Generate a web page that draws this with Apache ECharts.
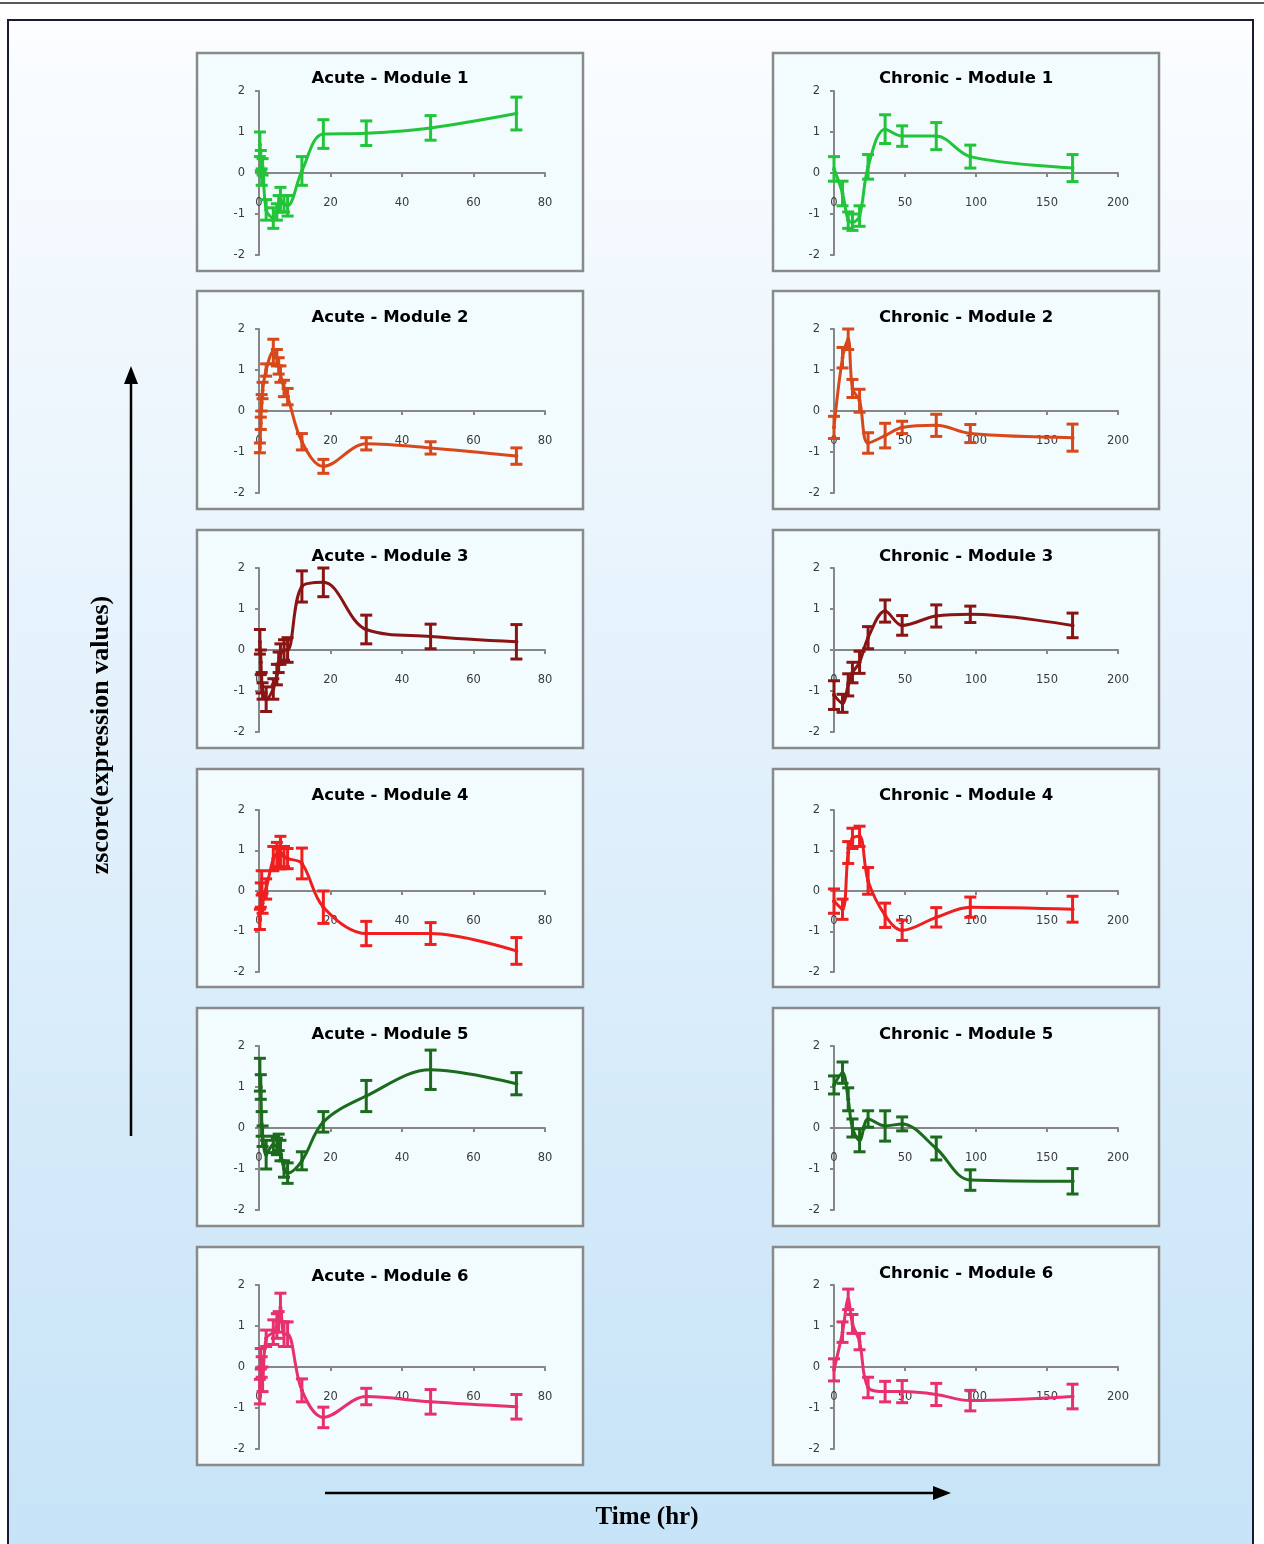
<!DOCTYPE html>
<html><head><meta charset="utf-8">
<script src="https://cdn.jsdelivr.net/npm/echarts@6/dist/echarts.min.js"></script>
<style>
html,body{margin:0;padding:0;background:#fff;}
#c{width:1264px;height:1544px;}
</style></head><body><div id="c"></div>
<script>
// ---------------- DATA ----------------
const acuteTime   = [0.25, 0.5, 0.75, 1, 2, 4, 5, 5.5, 6, 7, 8, 12, 18, 30, 48, 72];
const chronicTime = [0, 6, 10, 13, 18, 24, 36, 48, 72, 96, 168];

const acuteM1    = [0.7, 0.3, -0.1, 0.15, -0.9, -1.1, -0.95, -0.75, -0.65, -0.75, -0.8, 0.05, 0.95, 0.97, 1.1, 1.45];
const acuteM1Err = [0.3, 0.25, 0.2, 0.2, 0.25, 0.25, 0.2, 0.2, 0.3, 0.2, 0.25, 0.35, 0.35, 0.3, 0.3, 0.4];
const acuteM2    = [-0.9, -0.3, 0.2, 0.5, 1.0, 1.45, 1.3, 1.1, 0.9, 0.55, 0.35, -0.75, -1.35, -0.8, -0.9, -1.1];
const acuteM2Err = [0.12, 0.15, 0.2, 0.2, 0.15, 0.3, 0.2, 0.2, 0.2, 0.2, 0.2, 0.2, 0.17, 0.15, 0.15, 0.2];
const acuteM3    = [0.2, -0.3, -0.8, -1.0, -1.2, -0.95, -0.6, -0.3, -0.1, 0.0, 0.0, 1.55, 1.65, 0.5, 0.33, 0.2];
const acuteM3Err = [0.3, 0.3, 0.25, 0.2, 0.3, 0.25, 0.25, 0.25, 0.25, 0.25, 0.3, 0.38, 0.35, 0.35, 0.3, 0.42];
const acuteM4    = [-0.7, -0.1, 0.2, -0.3, 0.05, 0.8, 0.9, 0.8, 0.95, 0.85, 0.8, 0.68, -0.4, -1.05, -1.05, -1.48];
const acuteM4Err = [0.25, 0.3, 0.3, 0.25, 0.25, 0.3, 0.3, 0.25, 0.4, 0.25, 0.25, 0.38, 0.4, 0.3, 0.27, 0.33];
const acuteM5    = [1.3, 1.0, 0.1, -0.2, -0.65, -0.4, -0.45, -0.35, -0.55, -1.0, -1.1, -0.8, 0.15, 0.78, 1.42, 1.08];
const acuteM5Err = [0.4, 0.3, 0.3, 0.25, 0.35, 0.2, 0.2, 0.2, 0.25, 0.2, 0.25, 0.22, 0.25, 0.38, 0.48, 0.27];
const acuteM6    = [-0.6, 0.2, 0.0, -0.3, 0.7, 0.85, 1.0, 1.1, 1.45, 0.8, 0.8, -0.57, -1.23, -0.72, -0.85, -0.97];
const acuteM6Err = [0.3, 0.25, 0.25, 0.3, 0.2, 0.3, 0.3, 0.25, 0.35, 0.3, 0.3, 0.28, 0.25, 0.2, 0.3, 0.3];

const chronicM1    = [0.1, -0.5, -1.15, -1.2, -1.05, 0.15, 1.07, 0.9, 0.9, 0.4, 0.12];
const chronicM1Err = [0.3, 0.3, 0.2, 0.2, 0.25, 0.3, 0.35, 0.25, 0.33, 0.28, 0.33];
const chronicM2    = [-0.4, 1.3, 1.75, 0.55, 0.25, -0.78, -0.6, -0.4, -0.35, -0.55, -0.65];
const chronicM2Err = [0.27, 0.25, 0.25, 0.22, 0.28, 0.25, 0.3, 0.15, 0.27, 0.22, 0.33];
const chronicM3    = [-1.1, -1.3, -0.85, -0.55, -0.3, 0.3, 0.95, 0.6, 0.83, 0.87, 0.6];
const chronicM3Err = [0.35, 0.22, 0.27, 0.25, 0.27, 0.27, 0.27, 0.24, 0.27, 0.2, 0.3];
const chronicM4    = [-0.25, -0.45, 0.95, 1.3, 1.35, 0.25, -0.6, -0.97, -0.65, -0.4, -0.45];
const chronicM4Err = [0.3, 0.25, 0.27, 0.25, 0.25, 0.33, 0.3, 0.25, 0.24, 0.25, 0.32];
const chronicM5    = [1.05, 1.35, 0.7, 0.0, -0.3, 0.22, 0.05, 0.1, -0.5, -1.27, -1.3];
const chronicM5Err = [0.22, 0.26, 0.28, 0.22, 0.28, 0.2, 0.37, 0.17, 0.28, 0.25, 0.31];
const chronicM6    = [-0.07, 0.85, 1.65, 1.05, 0.62, -0.5, -0.6, -0.6, -0.67, -0.82, -0.72];
const chronicM6Err = [0.27, 0.25, 0.25, 0.23, 0.2, 0.25, 0.25, 0.27, 0.27, 0.25, 0.3];

const acuteTicks   = {max: 80, interval: 20};
const chronicTicks = {max: 200, interval: 50};
const yTicks       = {min: -2, max: 2, interval: 1};

const moduleNames = ['Module 1', 'Module 2', 'Module 3', 'Module 4', 'Module 5', 'Module 6'];
const yLabel = 'zscore(expression values)';
const xLabel = 'Time (hr)';

// ---------------- STYLE / LAYOUT ----------------
const colors = ['#22c43a', '#d8481a', '#8a1414', '#f01e1e', '#1c6b1c', '#e8306c'];
const acuteVals   = [acuteM1, acuteM2, acuteM3, acuteM4, acuteM5, acuteM6];
const acuteErrs   = [acuteM1Err, acuteM2Err, acuteM3Err, acuteM4Err, acuteM5Err, acuteM6Err];
const chronicVals = [chronicM1, chronicM2, chronicM3, chronicM4, chronicM5, chronicM6];
const chronicErrs = [chronicM1Err, chronicM2Err, chronicM3Err, chronicM4Err, chronicM5Err, chronicM6Err];

const panelTops = [53, 291, 530, 769, 1008, 1247];
const panelH = 218;
const panelLeft = [197, 773];
const panelW = 386;
const gridTop = [91, 329, 568, 810, 1046, 1285];
const gridH = [164, 164, 164, 162, 164, 164];
const gridLeft = [259, 834];
const gridW = [286, 284];
const titleY = [[77, 77], [316, 316], [555, 555], [794, 794], [1033, 1033], [1275, 1272]];

const axisColor = '#878787';
const grids = [], xAxes = [], yAxes = [], series = [], graphics = [];

// background frame
graphics.push({type:'rect', z:-10, shape:{x:8, y:20, width:1245, height:1600},
  style:{fill:new echarts.graphic.LinearGradient(0,0,0,1,[{offset:0,color:'#fbfdff'},{offset:1,color:'#c4e2f7'}]),
  stroke:'#1a1a33', lineWidth:2}});
graphics.push({type:'line', z:-10, shape:{x1:0, y1:3, x2:1264, y2:3}, style:{stroke:'#222', lineWidth:1.5}});

function errRender(color){
  return function(params, api){
    const x = api.value(0), y = api.value(1), e = api.value(2);
    const t = api.coord([x, y + e]), b = api.coord([x, y - e]);
    const h = 6;
    const st = {stroke: color, lineWidth: 3};
    return {type:'group', children:[
      {type:'line', shape:{x1:t[0], y1:t[1], x2:b[0], y2:b[1]}, style:st},
      {type:'line', shape:{x1:t[0]-h, y1:t[1], x2:t[0]+h, y2:t[1]}, style:st},
      {type:'line', shape:{x1:b[0]-h, y1:b[1], x2:b[0]+h, y2:b[1]}, style:st}
    ]};
  };
}

let gi = 0;
for (let r = 0; r < 6; r++) {
  for (let c = 0; c < 2; c++) {
    const times = c === 0 ? acuteTime : chronicTime;
    const vals = c === 0 ? acuteVals[r] : chronicVals[r];
    const errs = c === 0 ? acuteErrs[r] : chronicErrs[r];
    const ticks = c === 0 ? acuteTicks : chronicTicks;
    const title = (c === 0 ? 'Acute - ' : 'Chronic - ') + moduleNames[r];

    graphics.push({type:'rect', z:-5, shape:{x:panelLeft[c], y:panelTops[r], width:panelW, height:panelH},
      style:{fill:'#f2fbfd', stroke:'#8a8a8a', lineWidth:2.5}});
    graphics.push({type:'text', z:5, x: panelLeft[c] + panelW/2, y: titleY[r][c] + 1.5,
      style:{text:title, font:'bold 16.5px "DejaVu Sans"', fill:'#000', align:'center', verticalAlign:'middle'}});

    grids.push({left:gridLeft[c], top:gridTop[r], width:gridW[c], height:gridH[r], containLabel:false});
    xAxes.push({gridIndex:gi, type:'value', min:0, max:ticks.max, interval:ticks.interval,
      position:'bottom', offset: -gridH[r] / 2,
      axisLine:{show:true, onZero:false, lineStyle:{color:axisColor, width:2}},
      axisTick:{show:true, length:4, lineStyle:{color:axisColor, width:2}},
      axisLabel:{margin:24, color:'#3a3a3a', fontSize:11.5, fontFamily:'DejaVu Sans'},
      splitLine:{show:false}});
    yAxes.push({gridIndex:gi, type:'value', min:yTicks.min, max:yTicks.max, interval:yTicks.interval,
      axisLine:{show:true, lineStyle:{color:axisColor, width:2}},
      axisTick:{show:true, length:4, lineStyle:{color:axisColor, width:2}},
      axisLabel:{margin:14, color:'#3a3a3a', fontSize:11.5, fontFamily:'DejaVu Sans'},
      splitLine:{show:false}});

    series.push({type:'line', xAxisIndex:gi, yAxisIndex:gi, smooth:0.35,
      data: times.map((t, i) => [t, vals[i]]),
      symbol:'circle', symbolSize:4, showSymbol:true,
      lineStyle:{color:colors[r], width:3}, itemStyle:{color:colors[r]}, z:3, animation:false});
    series.push({type:'custom', xAxisIndex:gi, yAxisIndex:gi,
      data: times.map((t, i) => [t, vals[i], errs[i]]),
      encode:{x:0, y:1}, renderItem: errRender(colors[r]), z:4, animation:false});
    gi++;
  }
}

// arrows and axis titles
graphics.push({type:'line', shape:{x1:131, y1:1136, x2:131, y2:380}, style:{stroke:'#000', lineWidth:2.5}});
graphics.push({type:'polygon', shape:{points:[[131,366],[124,384],[138,384]]}, style:{fill:'#000'}});
graphics.push({type:'line', shape:{x1:325, y1:1493, x2:936, y2:1493}, style:{stroke:'#000', lineWidth:2.5}});
graphics.push({type:'polygon', shape:{points:[[951,1493],[933,1486],[933,1500]]}, style:{fill:'#000'}});
graphics.push({type:'text', x:101, y:735, rotation:Math.PI/2,
  style:{text:yLabel, font:'bold 26px "Liberation Serif"', fill:'#000', align:'center', verticalAlign:'middle'}});
graphics.push({type:'text', x:647, y:1518,
  style:{text:xLabel, font:'bold 25px "Liberation Serif"', fill:'#000', align:'center', verticalAlign:'middle'}});

const chart = echarts.init(document.getElementById('c'), null, {renderer:'canvas'});
chart.setOption({animation:false, grid:grids, xAxis:xAxes, yAxis:yAxes, series:series, graphic:{elements:graphics}});
</script></body></html>
